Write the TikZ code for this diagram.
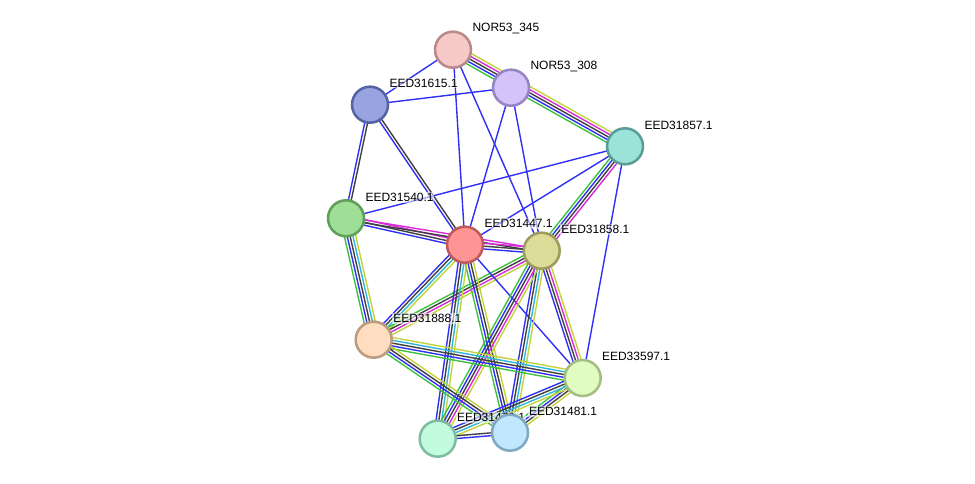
\documentclass[tikz,border=0pt]{standalone}
\usepackage{fontspec}
\setmainfont{Liberation Sans}
\usetikzlibrary{calc,backgrounds}
\definecolor{eG}{HTML}{3DC23D}
\definecolor{eB}{HTML}{2F2FF5}
\definecolor{eK}{HTML}{404040}
\definecolor{eM}{HTML}{D62BD6}
\definecolor{eC}{HTML}{30B4D8}
\definecolor{eY}{HTML}{C3D33A}
\definecolor{f345}{RGB}{247,200,200}\definecolor{d345}{RGB}{184,138,138}
\definecolor{f308}{RGB}{211,195,249}\definecolor{d308}{RGB}{149,133,194}
\definecolor{f615}{RGB}{152,163,225}\definecolor{d615}{RGB}{87,98,162}
\definecolor{f857}{RGB}{155,226,217}\definecolor{d857}{RGB}{90,157,151}
\definecolor{f540}{RGB}{158,222,151}\definecolor{d540}{RGB}{95,159,88}
\definecolor{f447}{RGB}{255,148,148}\definecolor{d447}{RGB}{191,90,90}
\definecolor{f858}{RGB}{220,219,152}\definecolor{d858}{RGB}{157,156,92}
\definecolor{f888}{RGB}{255,221,192}\definecolor{d888}{RGB}{188,155,128}
\definecolor{f597}{RGB}{224,252,192}\definecolor{d597}{RGB}{163,190,132}
\definecolor{f479}{RGB}{192,252,221}\definecolor{d479}{RGB}{128,189,160}
\definecolor{f481}{RGB}{192,231,252}\definecolor{d481}{RGB}{128,168,190}
\tikzset{
  prot/.style={circle, minimum size=27pt, inner sep=0pt, line width=1.9pt, fill=f#1, draw=d#1},
  lab/.style={anchor=west, font=\fontsize{9}{10}\selectfont, inner sep=0.6pt, fill=white, fill opacity=0.55, text opacity=1},
  ln/.style={line width=1.05pt},
}
\newcommand\bund[3]{%
  \foreach \cl [count=\k] in {#3} {\xdef\bundN{\k}}%
  \foreach \cl [count=\k] in {#3} {%
    \pgfmathsetmacro\off{(\k-(\bundN+1)/2)*2.1}%
    \draw[ln,draw=\cl] ($(#1.center)!\off pt!90:(#2.center)$) -- ($(#2.center)!\off pt!-90:(#1.center)$);
  }%
}
\begin{document}
\begin{tikzpicture}[x=0.75pt,y=-0.75pt]
\useasboundingbox (0,0) rectangle (975,484);
% nodes
\node[prot=345] (n345) at (453,49.7) {};
\node[lab] (l345) at (471.5,28.5) {NOR53\_345};
\node[prot=308] (n308) at (511,87.7) {};
\node[lab] (l308) at (529.5,66.5) {NOR53\_308};
\node[prot=615] (n615) at (370,104.7) {};
\node[lab] (l615) at (388.5,83) {EED31615.1};
\node[prot=857] (n857) at (625,146.3) {};
\node[lab] (l857) at (643.5,125.5) {EED31857.1};
\node[prot=540] (n540) at (346,218.3) {};
\node[lab] (l540) at (364.5,197.5) {EED31540.1};
\node[prot=447] (n447) at (465,244.7) {};
\node[lab] (l447) at (483.5,223.5) {EED31447.1};
\node[prot=858] (n858) at (541.7,250.7) {};
\node[lab] (l858) at (560.2,229.5) {EED31858.1};
\node[prot=888] (n888) at (373.7,339.7) {};
\node[lab] (l888) at (392.2,318.5) {EED31888.1};
\node[prot=597] (n597) at (582.7,378) {};
\node[lab] (l597) at (601,356.5) {EED33597.1};
\node[prot=479] (n479) at (437.7,438.7) {};
\node[lab] (l479) at (456,417.5) {EED31479.1};
\node[prot=481] (n481) at (510,432.7) {};
\node[lab] (l481) at (528,411.5) {EED31481.1};
% edges
\begin{scope}[on background layer]
\bund{n345}{n615}{eB}
\bund{n345}{n447}{eB}
\bund{n345}{n858}{eB}
\bund{n345}{n857}{eG,eB,eK,eM,eY}
\bund{n308}{n615}{eB}
\bund{n308}{n447}{eB}
\bund{n308}{n858}{eB}
\bund{n615}{n540}{eB,eK}
\bund{n615}{n447}{eB,eK}
\bund{n540}{n857}{eB}
\bund{n540}{n447}{eB,eK,eM}
\bund{n540}{n858}{eK,eM}
\bund{n540}{n888}{eG,eB,eK,eC,eY}
\bund{n447}{n857}{eB}
\bund{n857}{n858}{eG,eB,eK,eM}
\bund{n857}{n597}{eB}
\bund{n447}{n858}{eB,eK,eM}
\bund{n447}{n888}{eB,eK,eC,eY}
\bund{n858}{n888}{eG,eK,eM,eY}
\bund{n447}{n481}{eG,eB,eK,eY}
\bund{n447}{n479}{eB,eK,eC,eY}
\bund{n447}{n597}{eB}
\bund{n858}{n597}{eB,eK,eM,eY}
\bund{n858}{n481}{eB,eK,eC,eY}
\bund{n858}{n479}{eG,eB,eK,eM,eY}
\bund{n888}{n597}{eG,eB,eK,eC,eY}
\bund{n888}{n481}{eG,eB,eK,eY}
\bund{n597}{n481}{eG,eB,eK,eY}
\bund{n597}{n479}{eB,eK,eC,eY}
\bund{n479}{n481}{eB,eK}
\end{scope}
\end{tikzpicture}
\end{document}
